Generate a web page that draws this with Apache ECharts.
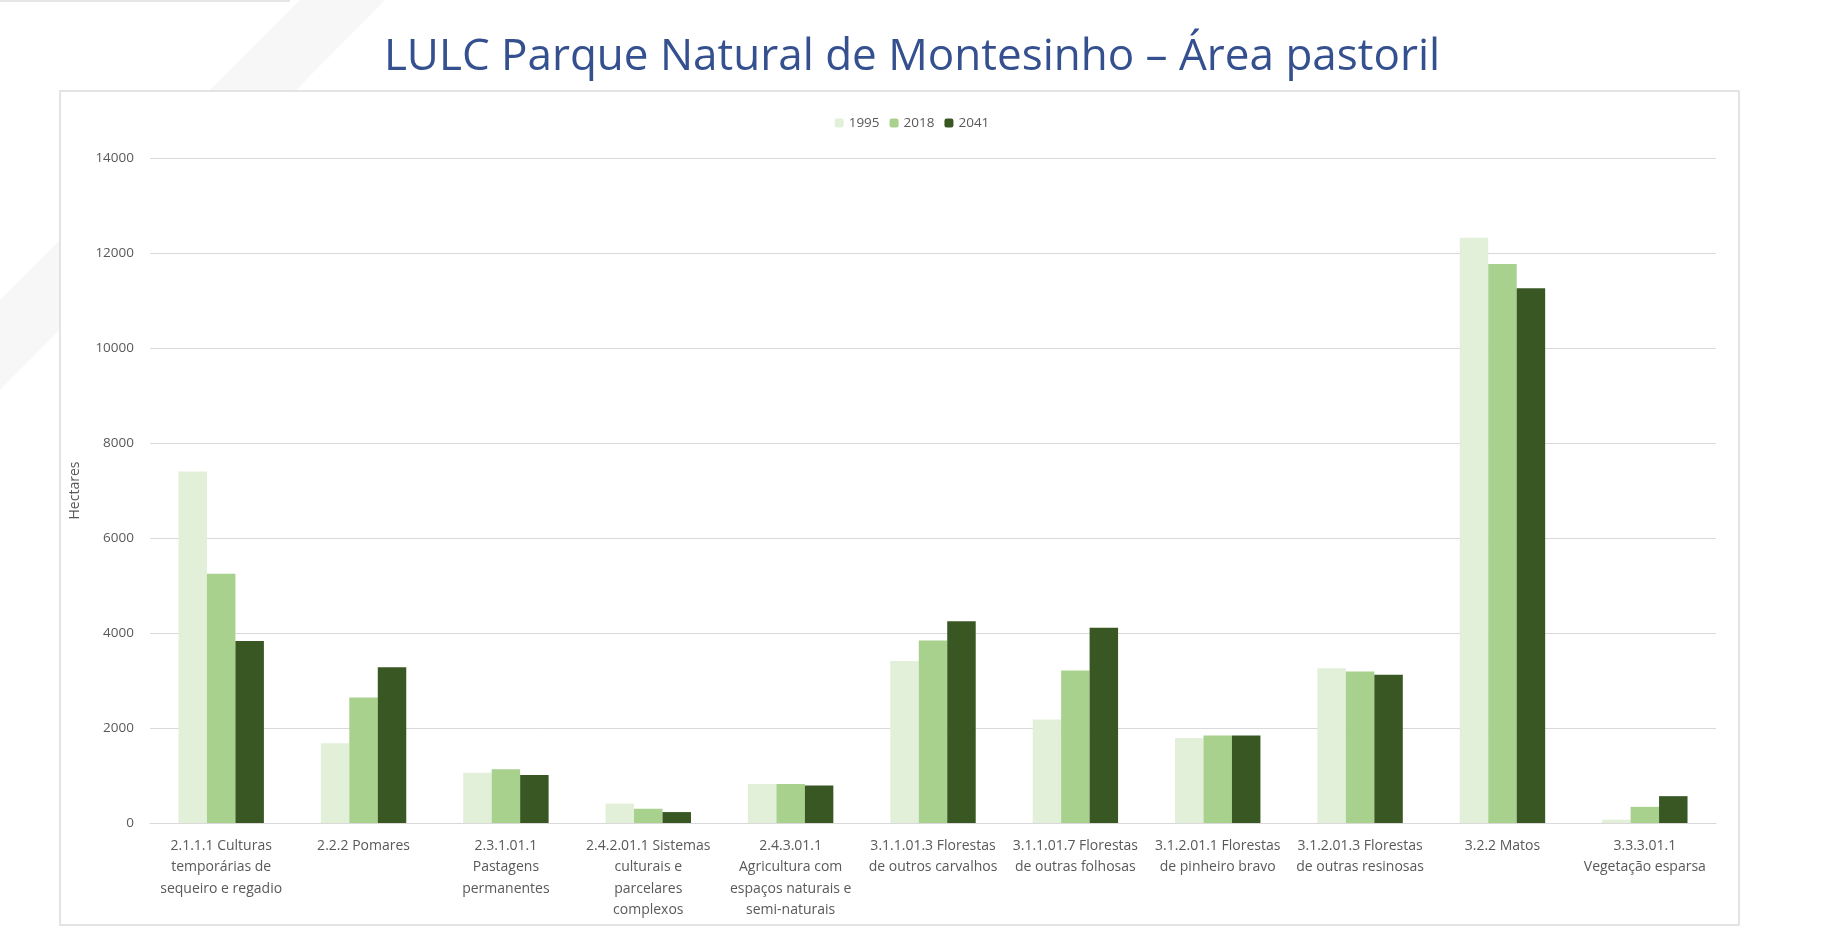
<!DOCTYPE html>
<html>
<head>
<meta charset="utf-8">
<script src="https://cdn.jsdelivr.net/npm/echarts@6/dist/echarts.min.js"></script>
<style>
  html, body { margin: 0; padding: 0; background: #fff; }
  #grafico { width: 1824px; height: 952px; }
</style>
</head>
<body>
<div id="grafico"></div>
<script>
const categorias = [
  "2.1.1.1 Culturas\ntemporárias de\nsequeiro e regadio",
  "2.2.2 Pomares",
  "2.3.1.01.1\nPastagens\npermanentes",
  "2.4.2.01.1 Sistemas\nculturais e\nparcelares\ncomplexos",
  "2.4.3.01.1\nAgricultura com\nespaços naturais e\nsemi-naturais",
  "3.1.1.01.3 Florestas\nde outros carvalhos",
  "3.1.1.01.7 Florestas\nde outras folhosas",
  "3.1.2.01.1 Florestas\nde pinheiro bravo",
  "3.1.2.01.3 Florestas\nde outras resinosas",
  "3.2.2 Matos",
  "3.3.3.01.1\nVegetação esparsa"
];

// Hectares por ano
const anos = ["1995", "2018", "2041"];
const valores1995 = [7400, 1680, 1060, 410, 820, 3410, 2180, 1790, 3260, 12320, 70];
const valores2018 = [5250, 2640, 1130, 300, 820, 3840, 3210, 1840, 3190, 11770, 340];
const valores2041 = [3830, 3280, 1010, 230, 790, 4250, 4110, 1840, 3120, 11260, 565];
const cores = ["#e2efd9", "#a9d18e", "#385723"];

const chart = echarts.init(document.getElementById("grafico"));

chart.setOption({
  animation: false,
  title: {
    text: "LULC Parque Natural de Montesinho – Área pastoril",
    left: "center",
    top: 30,
    textStyle: { fontFamily: "Open Sans", fontSize: 44, fontWeight: "normal", color: "#34508f" }
  },
  graphic: [
    // faixa decorativa no canto superior esquerdo
    {
      type: "polygon",
      shape: { points: [[300, 0], [385, 0], [0, 390], [0, 300]] },
      style: { fill: "#f7f7f7" },
      z: -2
    },
    {
      type: "rect",
      shape: { x: 0, y: 0, width: 290, height: 2 },
      style: { fill: "#e6e6e6" },
      z: -2
    },
    {
      type: "rect",
      shape: { x: 60, y: 91, width: 1679, height: 834 },
      style: { fill: "#fff", stroke: "#dcdcdc", lineWidth: 1.5 },
      z: -1
    }
  ],
  legend: {
    data: anos,
    top: 111,
    left: "center",
    itemWidth: 9,
    itemHeight: 9,
    itemGap: 10,
    textStyle: { fontFamily: "Open Sans", fontSize: 13.5, color: "#595959" }
  },
  grid: { left: 150, right: 108, top: 158, bottom: 129 },
  xAxis: {
    type: "category",
    data: categorias,
    axisLine: { lineStyle: { color: "#d9d9d9" } },
    axisTick: { show: false },
    axisLabel: {
      interval: 0,
      margin: 12,
      fontFamily: "Open Sans",
      fontSize: 14,
      lineHeight: 21.5,
      color: "#595959",
      verticalAlign: "top"
    }
  },
  yAxis: {
    type: "value",
    min: 0,
    max: 14000,
    interval: 2000,
    name: "Hectares",
    nameLocation: "middle",
    nameGap: 68,
    nameTextStyle: { fontFamily: "Open Sans", fontSize: 14, color: "#595959" },
    axisLabel: {
      fontFamily: "Open Sans",
      fontSize: 13.5,
      color: "#595959",
      margin: 16,
      formatter: (v) => String(v)
    },
    splitLine: { lineStyle: { color: "#d9d9d9" } }
  },
  series: [
    { name: anos[0], type: "bar", data: valores1995, itemStyle: { color: cores[0] }, barGap: "0%", barCategoryGap: "40%" },
    { name: anos[1], type: "bar", data: valores2018, itemStyle: { color: cores[1] }, barGap: "0%", barCategoryGap: "40%" },
    { name: anos[2], type: "bar", data: valores2041, itemStyle: { color: cores[2] }, barGap: "0%", barCategoryGap: "40%" }
  ]
});
</script>
</body>
</html>
